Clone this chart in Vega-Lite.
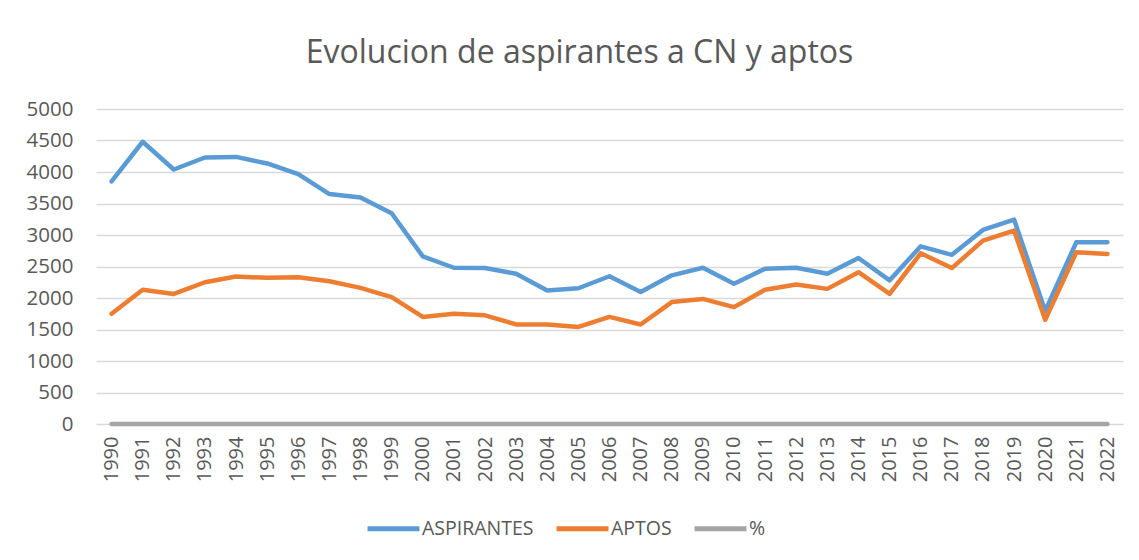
{
  "$schema": "https://vega.github.io/schema/vega-lite/v6.json",
  "width": 1027,
  "height": 315,
  "autosize": {"type": "none"},
  "padding": {"left": 96, "top": 109, "right": 16, "bottom": 136},
  "background": "white",
  "title": {
    "text": "Evolucion de aspirantes a CN y aptos",
    "font": "Open Sans",
    "fontSize": 32,
    "fontWeight": "normal",
    "color": "#595959",
    "anchor": "middle",
    "dx": -30,
    "offset": 29
  },
  "data": {
    "values": [
      {"year": "1990", "ASPIRANTES": 3850, "APTOS": 1750, "%": 0.45},
      {"year": "1991", "ASPIRANTES": 4480, "APTOS": 2130, "%": 0.48},
      {"year": "1992", "ASPIRANTES": 4040, "APTOS": 2065, "%": 0.51},
      {"year": "1993", "ASPIRANTES": 4230, "APTOS": 2250, "%": 0.53},
      {"year": "1994", "ASPIRANTES": 4240, "APTOS": 2340, "%": 0.55},
      {"year": "1995", "ASPIRANTES": 4135, "APTOS": 2320, "%": 0.56},
      {"year": "1996", "ASPIRANTES": 3965, "APTOS": 2330, "%": 0.59},
      {"year": "1997", "ASPIRANTES": 3650, "APTOS": 2265, "%": 0.62},
      {"year": "1998", "ASPIRANTES": 3595, "APTOS": 2160, "%": 0.6},
      {"year": "1999", "ASPIRANTES": 3345, "APTOS": 2015, "%": 0.6},
      {"year": "2000", "ASPIRANTES": 2660, "APTOS": 1700, "%": 0.64},
      {"year": "2001", "ASPIRANTES": 2480, "APTOS": 1750, "%": 0.71},
      {"year": "2002", "ASPIRANTES": 2475, "APTOS": 1725, "%": 0.7},
      {"year": "2003", "ASPIRANTES": 2385, "APTOS": 1580, "%": 0.66},
      {"year": "2004", "ASPIRANTES": 2120, "APTOS": 1580, "%": 0.75},
      {"year": "2005", "ASPIRANTES": 2155, "APTOS": 1540, "%": 0.71},
      {"year": "2006", "ASPIRANTES": 2345, "APTOS": 1700, "%": 0.72},
      {"year": "2007", "ASPIRANTES": 2095, "APTOS": 1580, "%": 0.75},
      {"year": "2008", "ASPIRANTES": 2360, "APTOS": 1935, "%": 0.82},
      {"year": "2009", "ASPIRANTES": 2480, "APTOS": 1985, "%": 0.8},
      {"year": "2010", "ASPIRANTES": 2225, "APTOS": 1855, "%": 0.83},
      {"year": "2011", "ASPIRANTES": 2465, "APTOS": 2130, "%": 0.86},
      {"year": "2012", "ASPIRANTES": 2480, "APTOS": 2215, "%": 0.89},
      {"year": "2013", "ASPIRANTES": 2385, "APTOS": 2145, "%": 0.9},
      {"year": "2014", "ASPIRANTES": 2635, "APTOS": 2410, "%": 0.91},
      {"year": "2015", "ASPIRANTES": 2280, "APTOS": 2065, "%": 0.91},
      {"year": "2016", "ASPIRANTES": 2820, "APTOS": 2710, "%": 0.96},
      {"year": "2017", "ASPIRANTES": 2685, "APTOS": 2475, "%": 0.92},
      {"year": "2018", "ASPIRANTES": 3080, "APTOS": 2910, "%": 0.95},
      {"year": "2019", "ASPIRANTES": 3245, "APTOS": 3070, "%": 0.95},
      {"year": "2020", "ASPIRANTES": 1795, "APTOS": 1655, "%": 0.92},
      {"year": "2021", "ASPIRANTES": 2885, "APTOS": 2725, "%": 0.94},
      {"year": "2022", "ASPIRANTES": 2885, "APTOS": 2700, "%": 0.94}
    ]
  },
  "transform": [
    {"fold": ["ASPIRANTES", "APTOS", "%"], "as": ["serie", "valor"]}
  ],
  "encoding": {
    "x": {
      "field": "year",
      "type": "ordinal",
      "title": null,
      "axis": {
        "labelAngle": 270,
        "labelFont": "Open Sans",
        "labelFontSize": 20,
        "labelColor": "#595959",
        "labelPadding": 12,
        "ticks": false,
        "domain": false,
        "grid": false
      }
    },
    "y": {
      "field": "valor",
      "type": "quantitative",
      "title": null,
      "scale": {"domain": [0, 5000], "nice": false},
      "axis": {
        "values": [0, 500, 1000, 1500, 2000, 2500, 3000, 3500, 4000, 4500, 5000],
        "format": "d",
        "labelFont": "Open Sans",
        "labelFontSize": 20.5,
        "labelColor": "#595959",
        "labelPadding": 23,
        "ticks": false,
        "domain": false,
        "grid": true,
        "gridColor": "#D9D9D9",
        "gridWidth": 1.5
      }
    },
    "color": {
      "field": "serie",
      "type": "nominal",
      "title": null,
      "scale": {
        "domain": ["ASPIRANTES", "APTOS", "%"],
        "range": ["#5B9BD5", "#ED7D31", "#A5A5A5"]
      },
      "legend": {
        "orient": "none",
        "legendX": 269,
        "legendY": 391,
        "direction": "horizontal",
        "symbolType": "stroke",
        "symbolSize": 2700,
        "symbolStrokeWidth": 5,
        "labelFont": "Open Sans",
        "labelFontSize": 19.5,
        "labelColor": "#595959",
        "labelOffset": 0,
        "columnPadding": 12
      }
    }
  },
  "layer": [
    {
      "transform": [{"filter": "datum.serie === 'ASPIRANTES'"}],
      "mark": {"type": "line", "strokeWidth": 4.5, "strokeCap": "round", "strokeJoin": "round"}
    },
    {
      "transform": [{"filter": "datum.serie === 'APTOS'"}],
      "mark": {"type": "line", "strokeWidth": 4.5, "strokeCap": "round", "strokeJoin": "round"}
    },
    {
      "transform": [{"filter": "datum.serie === '%'"}],
      "mark": {"type": "line", "strokeWidth": 4.5, "strokeCap": "round", "strokeJoin": "round"}
    }
  ],
  "config": {"view": {"stroke": null}}
}
